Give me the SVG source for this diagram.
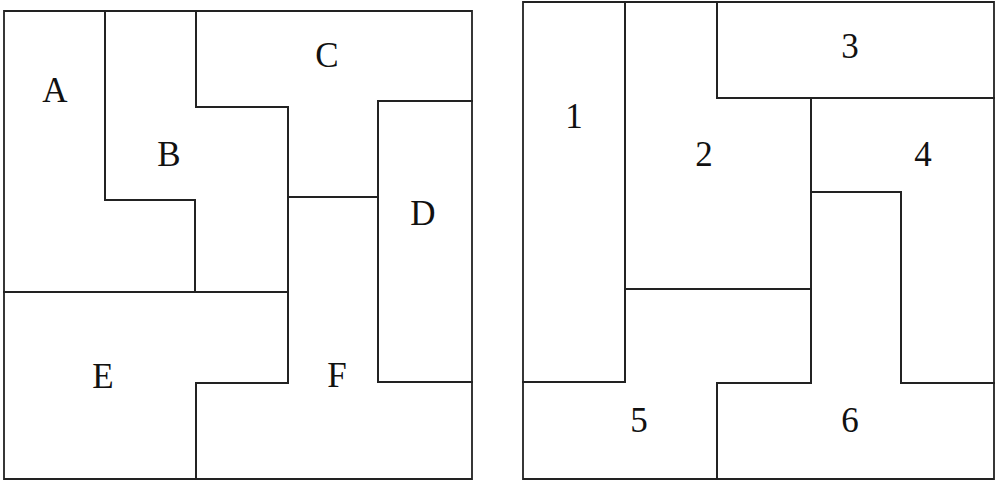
<svg xmlns="http://www.w3.org/2000/svg" width="1000" height="485" viewBox="0 0 1000 485">
<style>
.p{fill:none;stroke:#222;stroke-width:1.8;stroke-linejoin:miter}
.t{font-family:"Liberation Serif",serif;font-size:35px;fill:#111;text-anchor:middle}
</style>
<rect width="1000" height="485" fill="#fff"/>
<g id="left">
<g id="A"><polygon class="p" points="4,11 105,11 105,200 195,200 195,292 4,292"/><text class="t" x="55" y="102">A</text></g>
<g id="B"><polygon class="p" points="105,11 196,11 196,107 288,107 288,292 195,292 195,200 105,200"/><text class="t" x="169" y="166">B</text></g>
<g id="C"><polygon class="p" points="196,11 472,11 472,101 378,101 378,197 288,197 288,107 196,107"/><text class="t" x="327" y="67">C</text></g>
<g id="D"><polygon class="p" points="378,101 472,101 472,382 378,382"/><text class="t" x="423" y="225">D</text></g>
<g id="E"><polygon class="p" points="4,292 288,292 288,383 196,383 196,479 4,479"/><text class="t" x="103" y="388">E</text></g>
<g id="F"><polygon class="p" points="288,197 378,197 378,382 472,382 472,479 196,479 196,383 288,383"/><text class="t" x="337" y="387">F</text></g>
</g>
<g id="right">
<g id="n1"><polygon class="p" points="523,2 625,2 625,382 523,382"/><text class="t" x="574" y="128">1</text></g>
<g id="n2"><polygon class="p" points="625,2 717,2 717,98 811,98 811,289 625,289"/><text class="t" x="704" y="166">2</text></g>
<g id="n3"><polygon class="p" points="717,2 994,2 994,98 717,98"/><text class="t" x="850" y="58">3</text></g>
<g id="n4"><polygon class="p" points="811,98 994,98 994,383 901,383 901,192 811,192"/><text class="t" x="923" y="166">4</text></g>
<g id="n5"><polygon class="p" points="523,382 625,382 625,289 811,289 811,383 717,383 717,479 523,479"/><text class="t" x="639" y="432">5</text></g>
<g id="n6"><polygon class="p" points="811,192 901,192 901,383 994,383 994,479 717,479 717,383 811,383"/><text class="t" x="850" y="432">6</text></g>
</g>
</svg>
